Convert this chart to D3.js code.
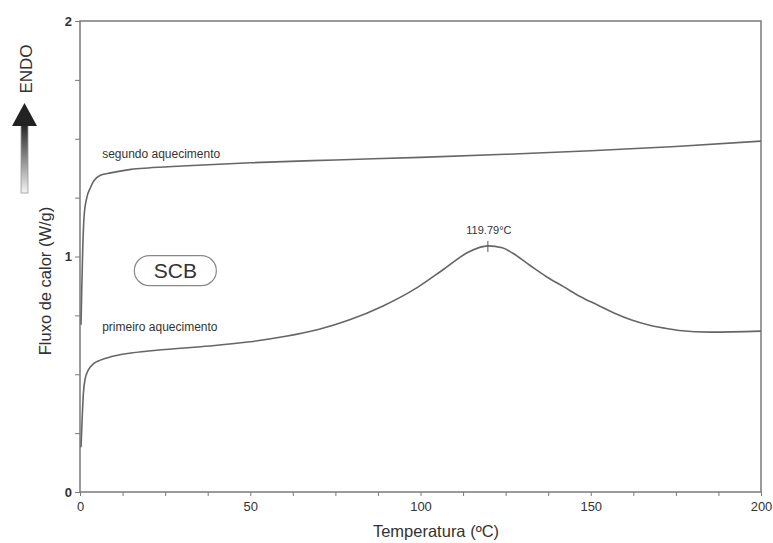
<!DOCTYPE html>
<html>
<head>
<meta charset="utf-8">
<script src="https://cdn.jsdelivr.net/npm/d3@7"></script>
<style>
  body { margin: 0; background: #fff; }
  text { font-family: "Liberation Sans", Arial, sans-serif; fill: #333; }
</style>
</head>
<body>
<svg width="773" height="543"></svg>
<script>
// temperature (ºC) and heat flow (W/g)
var segundoT = [0.3, 0.5, 0.8, 1.2, 2, 3, 4, 6, 9, 15, 20, 30, 50, 75, 100, 125, 150, 175, 200];
var segundoV = [0.71, 0.85, 1.03, 1.17, 1.25, 1.29, 1.32, 1.345, 1.355, 1.37, 1.376, 1.384, 1.398, 1.41, 1.421, 1.434, 1.449, 1.467, 1.49];

var primeiroT = [0.3, 0.6, 1, 1.5, 2.5, 4, 6, 9, 15, 25, 38, 50, 60, 70, 79, 89, 99, 107, 114, 119.8, 124, 127, 132, 137, 142, 147, 152, 157, 162, 167, 172, 176, 185, 200];
var primeiroV = [0.19, 0.3, 0.42, 0.48, 0.52, 0.545, 0.56, 0.574, 0.59, 0.605, 0.62, 0.638, 0.66, 0.69, 0.73, 0.79, 0.868, 0.948, 1.018, 1.045, 1.037, 1.015, 0.964, 0.914, 0.872, 0.829, 0.794, 0.759, 0.73, 0.709, 0.695, 0.686, 0.679, 0.683];

var xTicks = [0, 50, 100, 150, 200];
var yTicks = [0, 1, 2];
var peakT = 119.79, peakLabel = "119.79°C";

var svg = d3.select("svg");
var margin = {left: 80, right: 12, top: 21, bottom: 51};
var width = 773 - margin.left - margin.right,
    height = 543 - margin.top - margin.bottom;

var x = d3.scaleLinear().domain([0, 200]).range([0, width]);
var y = d3.scaleLinear().domain([0, 2]).range([height, 0]);

var g = svg.append("g").attr("transform", "translate(" + margin.left + "," + margin.top + ")");

var axisColor = "#7a7a7a";

// frame
g.append("rect")
    .attr("width", width).attr("height", height)
    .attr("fill", "none").attr("stroke", axisColor).attr("stroke-width", 1.5);

// x axis
var xMinor = d3.range(0, 200.1, 12.5);
g.append("g").attr("transform", "translate(0," + height + ")")
    .call(d3.axisBottom(x).tickValues(xMinor).tickSize(4).tickFormat(function(d) {
        return xTicks.indexOf(d) >= 0 ? d : "";
    }))
    .call(function(a) {
        a.select(".domain").remove();
        a.selectAll("line").attr("stroke", axisColor);
        a.selectAll("text").attr("font-size", 13).attr("fill", "#333").attr("dy", "0.9em");
    });

// y axis
var yMinor = d3.range(0, 2.01, 0.25);
g.append("g")
    .call(d3.axisLeft(y).tickValues(yMinor).tickSize(5).tickFormat(function(d) {
        return yTicks.indexOf(d) >= 0 ? d : "";
    }))
    .call(function(a) {
        a.select(".domain").remove();
        a.selectAll("line").attr("stroke", axisColor);
        a.selectAll("text").attr("font-size", 13).attr("fill", "#333").attr("font-weight", "bold");
    });

var line = d3.line()
    .x(function(d) { return x(d[0]); })
    .y(function(d) { return y(d[1]); })
    .curve(d3.curveMonotoneX);

var curveColor = "#666";
g.append("path")
    .datum(d3.zip(segundoT, segundoV))
    .attr("d", line).attr("fill", "none")
    .attr("stroke", curveColor).attr("stroke-width", 1.6);

g.append("path")
    .datum(d3.zip(primeiroT, primeiroV))
    .attr("d", line).attr("fill", "none")
    .attr("stroke", curveColor).attr("stroke-width", 1.6);

// peak marker
var peakV = 1.045;
g.append("line")
    .attr("x1", x(peakT)).attr("x2", x(peakT))
    .attr("y1", y(peakV) - 5).attr("y2", y(peakV) + 6)
    .attr("stroke", "#555").attr("stroke-width", 1);
g.append("text")
    .attr("x", x(peakT) + 1).attr("y", y(peakV) - 12)
    .attr("text-anchor", "middle").attr("font-size", 11)
    .text(peakLabel);

// curve labels
g.append("text").attr("x", x(6.5)).attr("y", y(1.42)).attr("font-size", 12)
    .text("segundo aquecimento");
g.append("text").attr("x", x(6.5)).attr("y", y(0.685)).attr("font-size", 12)
    .text("primeiro aquecimento");

// SCB badge
var bx = x(28), by = y(0.94);
g.append("rect")
    .attr("x", bx - 41).attr("y", by - 15).attr("width", 82).attr("height", 30)
    .attr("rx", 15).attr("ry", 15)
    .attr("fill", "#fff").attr("stroke", "#888").attr("stroke-width", 1.2);
g.append("text")
    .attr("x", bx).attr("y", by + 7)
    .attr("text-anchor", "middle").attr("font-size", 21)
    .text("SCB");

// axis titles
svg.append("text")
    .attr("x", 436).attr("y", 537)
    .attr("text-anchor", "middle").attr("font-size", 16.5)
    .text("Temperatura (ºC)");
svg.append("text")
    .attr("transform", "translate(51,281) rotate(-90)")
    .attr("text-anchor", "middle").attr("font-size", 16.5)
    .text("Fluxo de calor (W/g)");

// ENDO arrow
var defs = svg.append("defs");
var grad = defs.append("linearGradient").attr("id", "shaft")
    .attr("x1", 0).attr("y1", 0).attr("x2", 0).attr("y2", 1);
grad.append("stop").attr("offset", "0%").attr("stop-color", "#222");
grad.append("stop").attr("offset", "100%").attr("stop-color", "#f4f4f4");

svg.append("rect")
    .attr("x", 21).attr("y", 124).attr("width", 7).attr("height", 69)
    .attr("fill", "url(#shaft)").attr("stroke", "#999").attr("stroke-width", 0.8);
svg.append("path")
    .attr("d", "M12,126 L24.5,103 L37,126 Z")
    .attr("fill", "#222");
svg.append("text")
    .attr("transform", "translate(32,69) rotate(-90)")
    .attr("text-anchor", "middle").attr("font-size", 17)
    .attr("fill", "#222")
    .text("ENDO");
</script>
</body>
</html>
